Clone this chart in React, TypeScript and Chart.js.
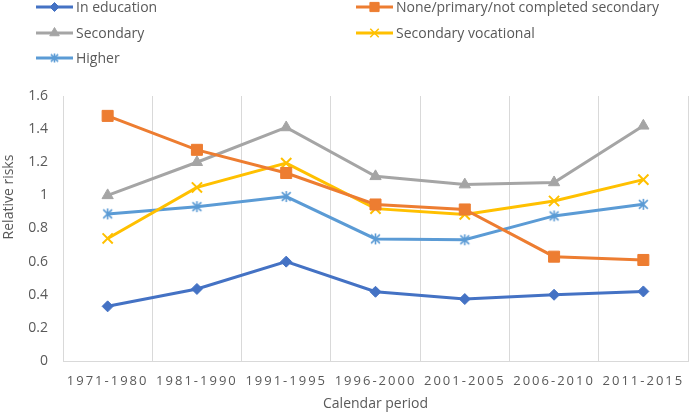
import React, { useEffect, useRef } from "react";
import { Chart, registerables } from "chart.js";
import { drawPoint } from "chart.js/helpers";

Chart.register(...registerables);

const periods = ["1971-1980", "1981-1990", "1991-1995", "1996-2000", "2001-2005", "2006-2010", "2011-2015"];
const inEducation = [0.33, 0.435, 0.6, 0.418, 0.374, 0.4, 0.42];
const nonePrimary = [1.48, 1.275, 1.135, 0.945, 0.915, 0.63, 0.61];
const secondary = [1.0, 1.2, 1.41, 1.115, 1.065, 1.078, 1.42];
const secondaryVocational = [0.74, 1.048, 1.195, 0.92, 0.885, 0.966, 1.095];
const higher = [0.888, 0.932, 0.993, 0.737, 0.732, 0.876, 0.946];
const yTicks = [0, 0.2, 0.4, 0.6, 0.8, 1, 1.2, 1.4, 1.6];
const yTitle = "Relative risks";
const xTitle = "Calendar period";

const FONT = "'Open Sans', sans-serif";
const TEXT = "#595959";

function makeStar(color: string, size: number) {
  const c = document.createElement("canvas");
  c.width = size;
  c.height = size;
  const g = c.getContext("2d")!;
  const m = size / 2;
  const r = size / 2 - 1;
  g.strokeStyle = color;
  g.lineWidth = 1.6;
  g.beginPath();
  g.moveTo(m, m - r);
  g.lineTo(m, m + r);
  const d = r * 0.8;
  g.moveTo(m - d, m - d);
  g.lineTo(m + d, m + d);
  g.moveTo(m + d, m - d);
  g.lineTo(m - d, m + d);
  g.stroke();
  return c;
}

const legendPlugin = {
  id: "twoColLegend",
  afterDraw(chart: any) {
    const ctx = chart.ctx;
    const cols = [36, 356];
    const rows = [7, 33, 58];
    chart.data.datasets.forEach((ds: any, i: number) => {
      const x0 = cols[i % 2];
      const y = rows[Math.floor(i / 2)];
      ctx.save();
      ctx.strokeStyle = ds.borderColor;
      ctx.fillStyle = ds.borderColor;
      ctx.lineWidth = 3;
      ctx.beginPath();
      ctx.moveTo(x0, y);
      ctx.lineTo(x0 + 37, y);
      ctx.stroke();
      ctx.lineWidth = ds.legendBorder;
      drawPoint(ctx, { pointStyle: ds.legendStyle || ds.pointStyle, rotation: 0, radius: ds.legendRadius, borderWidth: ds.legendBorder }, x0 + 18.5, y);
      ctx.fillStyle = TEXT;
      ctx.font = `14px ${FONT}`;
      ctx.textBaseline = "middle";
      ctx.textAlign = "left";
      ctx.fillText(ds.label, x0 + 40, y + 1);
      ctx.restore();
    });
    ctx.save();
    ctx.translate(9, 197);
    ctx.rotate(-Math.PI / 2);
    ctx.fillStyle = TEXT;
    ctx.font = `14px ${FONT}`;
    ctx.textAlign = "center";
    ctx.textBaseline = "middle";
    ctx.fillText(yTitle, 0, 0);
    ctx.restore();
  },
};

const spacingPlugin = {
  id: "xLetterSpacing",
  beforeDraw(chart: any) {
    const s = chart.scales.x;
    if (s && !s.__wrapped) {
      const orig = s.drawLabels;
      s.drawLabels = function (area: any) {
        const c = this.ctx;
        const prev = c.letterSpacing;
        c.letterSpacing = "2px";
        orig.call(this, area);
        c.letterSpacing = prev;
      };
      s.__wrapped = true;
    }
  },
};

export default function App() {
  const ref = useRef<HTMLCanvasElement>(null);
  useEffect(() => {
    const mk = (label: string, data: number[], color: string, style: any, r: number, bw: number, lr: number, lb: number, legendStyle?: any) => ({
      label,
      data,
      borderColor: color,
      backgroundColor: color,
      borderWidth: 3,
      pointStyle: style,
      pointRadius: r,
      pointHoverRadius: r,
      pointBorderWidth: bw,
      pointBackgroundColor: color,
      pointBorderColor: color,
      legendRadius: lr,
      legendBorder: lb,
      legendStyle,
      tension: 0,
    });
    const chart = new Chart(ref.current!, {
      type: "line",
      data: {
        labels: periods,
        datasets: [
          mk("In education", inEducation, "#4472C4", "rectRot", 5.5, 1, 4.5, 1),
          mk("None/primary/not completed secondary", nonePrimary, "#ED7D31", "rect", 7.8, 1, 6.5, 1),
          mk("Secondary", secondary, "#A5A5A5", "triangle", 6.5, 1, 5.5, 1),
          mk("Secondary vocational", secondaryVocational, "#FFC000", "crossRot", 7.2, 2, 6, 1.5),
          mk("Higher", higher, "#5B9BD5", makeStar("#5B9BD5", 13), 6, 1.5, 5, 1.5, makeStar("#5B9BD5", 11)),
        ] as any,
      },
      options: {
        animation: false,
        responsive: false,
        maintainAspectRatio: false,
        layout: { autoPadding: false, padding: { top: 96, left: 0, right: 1, bottom: 0 } },
        plugins: { legend: { display: false }, tooltip: { enabled: false } },
        scales: {
          x: {
            offset: true,
            grid: { offset: true, color: "#D9D9D9", lineWidth: 1, drawTicks: false },
            border: { display: true, color: "#D9D9D9", width: 1 },
            ticks: { color: TEXT, font: { family: FONT, size: 13 }, padding: 12, maxRotation: 0, autoSkip: false },
            title: { display: true, text: xTitle, color: TEXT, font: { family: FONT, size: 14 }, padding: 0 },
            afterFit: (s: any) => { s.height = 51; s.paddingLeft = 0; s.paddingRight = 0; },
          },
          y: {
            min: 0,
            max: 1.6,
            afterBuildTicks: (s: any) => { s.ticks = yTicks.map((v) => ({ value: v })); },
            grid: { display: false, drawTicks: false },
            border: { display: false },
            ticks: { color: TEXT, font: { family: FONT, size: 14 }, padding: 15, callback: (v: any) => String(Math.round(Number(v) * 10) / 10) },
            afterFit: (s: any) => { s.width = 63; },
          },
        },
      },
      plugins: [legendPlugin, spacingPlugin],
    });
    return () => chart.destroy();
  }, []);
  return (
    <div style={{ position: "fixed", left: 0, top: 0, width: 689, height: 412, background: "#fff" }}>
      <canvas ref={ref} width={689} height={412} style={{ width: 689, height: 412 }} />
    </div>
  );
}
